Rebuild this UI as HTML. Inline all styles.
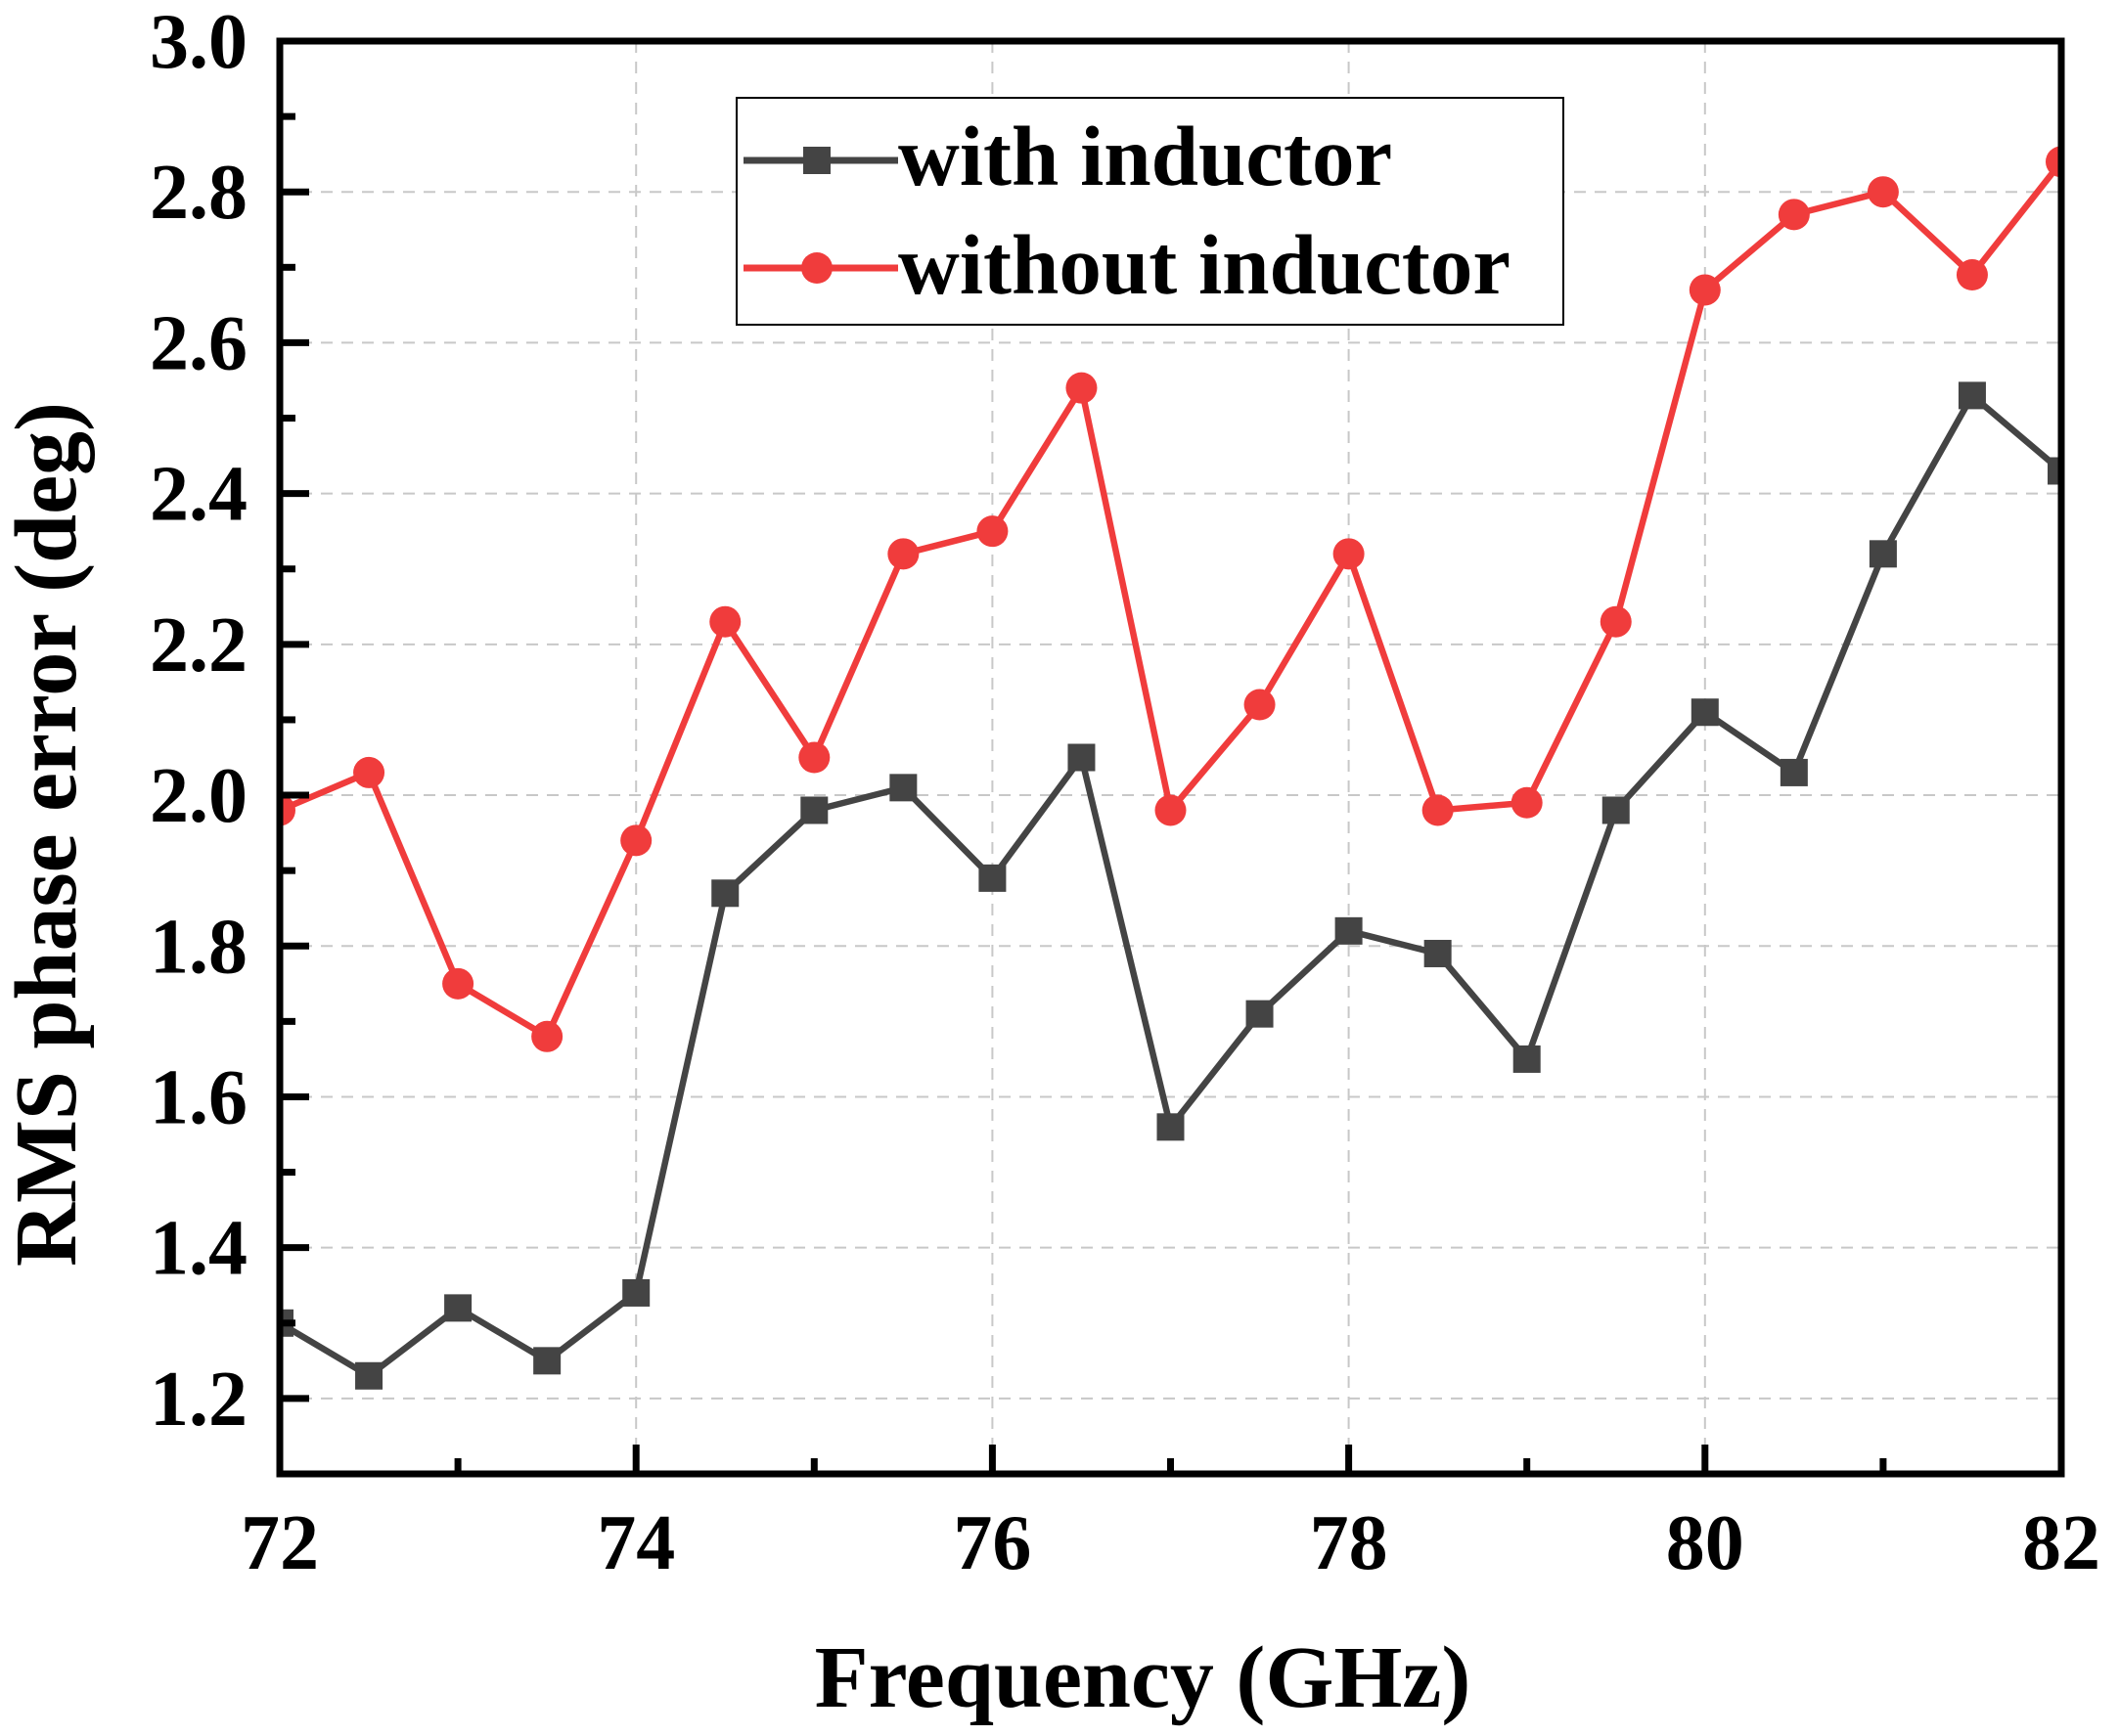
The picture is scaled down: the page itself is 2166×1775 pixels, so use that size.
<!DOCTYPE html>
<html><head><meta charset="utf-8"><style>
html,body{margin:0;padding:0;background:#fff;}
svg{display:block;font-family:"Liberation Serif",serif;font-weight:bold;}
</style></head><body>
<svg id="chart" width="2166" height="1775" viewBox="0 0 2166 1775" xmlns="http://www.w3.org/2000/svg">
<defs><clipPath id="plotclip"><rect x="286" y="42" width="1821" height="1465"/></clipPath></defs>
<g id="grid"></g>
<g id="series" clip-path="url(#plotclip)"></g>
<g id="axes"></g>
<g>
<rect x="753" y="100" width="845" height="232" fill="#fff" stroke="#000" stroke-width="2"/>
<g>
<line x1="760" y1="164" x2="918" y2="164" stroke="#444" stroke-width="7"/>
<rect x="821" y="150" width="28" height="28" fill="#444"/>
<text x="918" y="189" font-size="87" fill="#000">with inductor</text>
</g>
<g>
<line x1="760" y1="274" x2="918" y2="274" stroke="#f03c3c" stroke-width="7"/>
<circle cx="835" cy="274" r="16" fill="#f03c3c"/>
<text x="918" y="300" font-size="87" fill="#000">without inductor</text>
</g>
</g>
<text x="1168" y="1745" font-size="90" text-anchor="middle">Frequency (GHz)</text>
<text transform="translate(77,853) rotate(-90)" font-size="90" text-anchor="middle">RMS phase error (deg)</text>
</svg>
<script>
const freqs=[72,72.5,73,73.5,74,74.5,75,75.5,76,76.5,77,77.5,78,78.5,79,79.5,80,80.5,81,81.5,82];
const withInductor=[1.30,1.23,1.32,1.25,1.34,1.87,1.98,2.01,1.89,2.05,1.56,1.71,1.82,1.79,1.65,1.98,2.11,2.03,2.32,2.53,2.43];
const withoutInductor=[1.98,2.03,1.75,1.68,1.94,2.23,2.05,2.32,2.35,2.54,1.98,2.12,2.32,1.98,1.99,2.23,2.67,2.77,2.80,2.69,2.84];
const xTicks=[72,74,76,78,80,82];
const yTicks=[1.2,1.4,1.6,1.8,2.0,2.2,2.4,2.6,2.8,3.0];
const NS="http://www.w3.org/2000/svg";
const L=286,R=2107,T=42,B=1507,xmin=72,xmax=82,ymin=1.1,ymax=3.0;
function sx(v){return L+(v-xmin)/(xmax-xmin)*(R-L);}
function sy(v){return B-(v-ymin)/(ymax-ymin)*(B-T);}
function mk(tag,attrs,parent){const e=document.createElementNS(NS,tag);for(const k in attrs)e.setAttribute(k,attrs[k]);parent.appendChild(e);return e;}
const grid=document.getElementById('grid'),axes=document.getElementById('axes'),series=document.getElementById('series');
xTicks.forEach(v=>{if(v>xmin&&v<xmax){const g=mk('line',{x1:sx(v),x2:sx(v),y1:T,y2:B,stroke:'#c8c8c8','stroke-width':2,'stroke-dasharray':'12 9'},grid);

}});
yTicks.forEach(v=>{if(v<ymax){const g=mk('line',{x1:L,x2:R,y1:sy(v),y2:sy(v),stroke:'#c8c8c8','stroke-width':2,'stroke-dasharray':'12 9'},grid);

}});
function drawSeries(vals,color,marker,name){
  const pts=freqs.map((f,i)=>sx(f)+','+sy(vals[i])).join(' ');
  const pl=mk('polyline',{points:pts,fill:'none',stroke:color,'stroke-width':6.5,'stroke-linejoin':'round'},series);
  
  
  freqs.forEach((f,i)=>{let m;
    if(marker==='sq')m=mk('rect',{x:sx(f)-14,y:sy(vals[i])-14,width:28,height:28,fill:color},series);
    else m=mk('circle',{cx:sx(f),cy:sy(vals[i]),r:16,fill:color},series);
    
    });
}
drawSeries(withInductor,'#444444','sq','with-inductor');
drawSeries(withoutInductor,'#f03c3c','ci','without-inductor');
const frame=mk('rect',{x:L,y:T,width:R-L,height:B-T,fill:'none',stroke:'#000','stroke-width':7},axes);


for(let v=xmin;v<=xmax+1e-9;v+=1){const major=xTicks.includes(v);
  const t=mk('line',{x1:sx(v),x2:sx(v),y1:B,y2:B-(major?30:16),stroke:'#000','stroke-width':7},axes);
  
  }
for(let k=0;k<=19;k++){const v=ymin+k*0.1;const major=yTicks.some(y=>Math.abs(y-v)<1e-6);
  const t=mk('line',{x1:L,x2:L+(major?30:16),y1:sy(v),y2:sy(v),stroke:'#000','stroke-width':7},axes);
  
  }
xTicks.forEach(v=>{const t=mk('text',{x:sx(v),y:1604,'font-size':80,'text-anchor':'middle'},axes);t.textContent=String(v);
  
  });
yTicks.forEach(v=>{const t=mk('text',{x:253,y:sy(v)+27,'font-size':80,'text-anchor':'end'},axes);t.textContent=v.toFixed(1);
  
  });
</script>
</body></html>
